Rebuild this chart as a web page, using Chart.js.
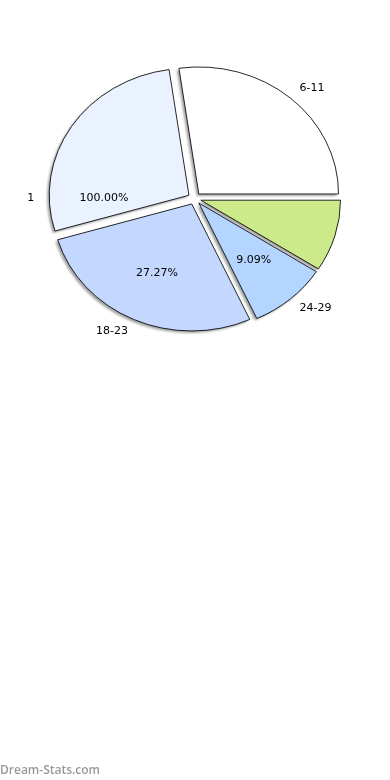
<!DOCTYPE html>
<html lang="en">
<head>
<meta charset="UTF-8">
<meta name="viewport" content="width=device-width, initial-scale=1.0">
<title>Age groups</title>
<script src="https://cdn.jsdelivr.net/npm/chart.js"></script>
<style>
  body { margin: 0; background: #fff; }
  #wrap { position: relative; width: 390px; height: 780px; }
  #credit { position: absolute; left: 0; top: 761px; font: 600 12px "Open Sans", sans-serif; color: #999; }
</style>
</head>
<body>
<div id="wrap">
  <canvas id="pieChart" width="390" height="780"></canvas>
  <div id="credit">Dream-Stats.com</div>
</div>
<script>
// slices, clockwise starting just left of 12 o'clock
var ageGroups = ['6-11', '', '24-29', '18-23', ''];
var counts = [3, 1, 1, 3, 3];
var sliceColors = ['#ffffff', '#cdea8a', '#b3d5ff', '#c4d8ff', '#eaf2ff'];
var showPercent = [false, false, true, true, false];
// label pair left over from a one-slice pie drawn on the same figure
var strayLabel = '1';
var strayPercent = '100.00%';

var total = counts.reduce(function(a, b) { return a + b; }, 0);

// the original pie is squashed into an ellipse, wider than tall
var stretchX = 1.1;
var explode = 6;
var labelFont = '11px "DejaVu Sans"';

function midAngle(arc) {
    return (arc.startAngle + arc.endAngle) / 2;
}

var pieLook = {
    id: 'pieLook',
    beforeDatasetsDraw: function(chart) {
        var ctx = chart.ctx;
        var arcs = chart.getDatasetMeta(0).data;
        var cx = arcs[0].x, cy = arcs[0].y;
        ctx.save();
        ctx.translate(cx, cy);
        ctx.scale(stretchX, 1);
        ctx.translate(-cx, -cy);

        // soft drop shadows first, then the wedges on top
        arcs.forEach(function(arc) {
            var m = midAngle(arc);
            ctx.save();
            ctx.filter = 'blur(0.8px)';
            ctx.translate(Math.cos(m) * explode - 2, Math.sin(m) * explode + 2);
            ctx.beginPath();
            ctx.moveTo(arc.x, arc.y);
            ctx.arc(arc.x, arc.y, arc.outerRadius, arc.startAngle, arc.endAngle);
            ctx.closePath();
            ctx.fillStyle = 'rgba(50,50,50,0.45)';
            ctx.fill();
            ctx.restore();
        });
        arcs.forEach(function(arc) {
            var m = midAngle(arc);
            ctx.save();
            ctx.translate(Math.cos(m) * explode, Math.sin(m) * explode);
            arc.draw(ctx);
            ctx.restore();
        });
        ctx.restore();
        return false;
    },
    afterDraw: function(chart) {
        var ctx = chart.ctx;
        var arcs = chart.getDatasetMeta(0).data;
        var cx = arcs[0].x, cy = arcs[0].y;
        var r = arcs[0].outerRadius;
        ctx.save();
        ctx.font = labelFont;
        ctx.fillStyle = '#000';
        ctx.textBaseline = 'middle';

        arcs.forEach(function(arc, i) {
            var m = midAngle(arc);
            var c = Math.cos(m), s = Math.sin(m);
            var ex = cx + c * explode * stretchX;
            var ey = cy + s * explode;
            if (ageGroups[i]) {
                ctx.textAlign = c > 0 ? 'left' : 'right';
                ctx.fillText(ageGroups[i], ex + c * 1.1 * r * stretchX, ey + s * 1.1 * r);
            }
            if (showPercent[i]) {
                ctx.textAlign = 'center';
                var pct = (counts[i] / total * 100).toFixed(2) + '%';
                ctx.fillText(pct, ex + c * 0.6 * r * stretchX, ey + s * 0.6 * r);
            }
        });

        // stray pair sits at 9 o'clock
        var sx = cx - explode * stretchX;
        ctx.textAlign = 'right';
        ctx.fillText(strayLabel, sx - 1.1 * r * stretchX, cy);
        ctx.textAlign = 'center';
        ctx.fillText(strayPercent, sx - 0.6 * r * stretchX, cy);
        ctx.restore();
    }
};

var ctxPie = document.getElementById('pieChart').getContext('2d');
var pieChart = new Chart(ctxPie, {
    type: 'pie',
    data: {
        labels: ageGroups,
        datasets: [{
            data: counts,
            backgroundColor: sliceColors,
            borderColor: '#000',
            borderWidth: 0.8
        }]
    },
    options: {
        responsive: false,
        animation: false,
        rotation: 90 - counts[0] / total * 360,
        radius: 127,
        layout: { padding: { left: 0, right: 1, top: 0, bottom: 383 } },
        plugins: {
            legend: { display: false },
            tooltip: { enabled: false }
        }
    },
    plugins: [pieLook]
});
</script>
</body>
</html>
